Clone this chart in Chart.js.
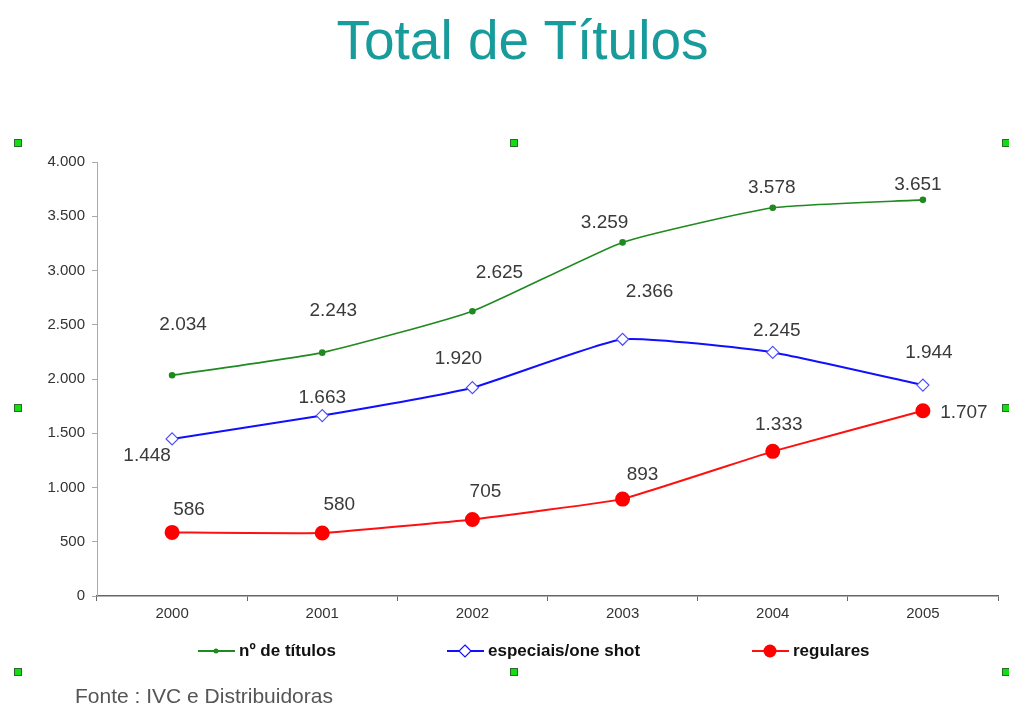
<!DOCTYPE html>
<html>
<head>
<meta charset="utf-8">
<script src="https://cdn.jsdelivr.net/npm/chart.js@4"></script>
<style>
  html, body { margin: 0; padding: 0; background: #fff; }
  #wrap { position: relative; width: 1009px; height: 709px; overflow: hidden; }
  #cvs { position: absolute; left: 0; top: 0; }
  #title { position: absolute; left: 0; width: 1045px; top: 8px; text-align: center;
           font: 55px "Liberation Sans", Arial, sans-serif; color: #179b9b; }
  #fonte { position: absolute; left: 75px; top: 684px; font: 21px "Liberation Sans", Arial, sans-serif; color: #555; }
  .handle { position: absolute; width: 6px; height: 6px; background: #11dd11; border: 1px solid #2a6a2a; }
</style>
</head>
<body>
<div id="wrap">
  <canvas id="cvs" width="1009" height="709"></canvas>
  <div id="title">Total de Títulos</div>
  <div id="fonte">Fonte : IVC e Distribuidoras</div>
</div>
<script>
// dados
const anos = ['2000', '2001', '2002', '2003', '2004', '2005'];
const nTitulos = [2034, 2243, 2625, 3259, 3578, 3651];
const especiais = [1448, 1663, 1920, 2366, 2245, 1944];
const regulares = [586, 580, 705, 893, 1333, 1707];
const yTicks = [0, 500, 1000, 1500, 2000, 2500, 3000, 3500, 4000];

// deslocamento dos rótulos em relação ao ponto (dx, dy)
const offTitulos = [[11, -51], [11, -42], [27, -38], [-18, -20], [-1, -20], [-5, -15]];
const offEspeciais = [[-25, 17], [0, -18], [-14, -29], [27, -48], [4, -22], [6, -32]];
const offRegulares = [[17, -23], [17, -28], [13, -28], [20, -24], [6, -27], [41, 2]];

// alças verdes de seleção (enfeite do slide)
[[18,143],[514,143],[1006,143],[18,408],[1006,408],[18,672],[514,672],[1006,672]].forEach(([x, y]) => {
    const d = document.createElement('div'); d.className = 'handle';
    d.style.left = (x - 4) + 'px'; d.style.top = (y - 4) + 'px';
    document.getElementById('wrap').appendChild(d);
});

const fmt = v => v.toString().replace(/\B(?=(\d{3})+(?!\d))/g, '.');

const labelsPlugin = {
    id: 'rotulos',
    afterDatasetsDraw(chart) {
        const ctx = chart.ctx;
        ctx.save();
        ctx.font = '19px "Liberation Sans", Arial, sans-serif';
        ctx.fillStyle = '#3a3a3a'; ctx.textAlign = 'center'; ctx.textBaseline = 'middle';
        chart.data.datasets.forEach((ds, i) => {
            chart.getDatasetMeta(i).data.forEach((pt, j) => {
                const o = ds.offsets[j];
                ctx.fillText(fmt(ds.data[j]), pt.x + o[0], pt.y + o[1]);
            });
        });
        ctx.restore();
    }
};

const legendPlugin = {
    id: 'legenda',
    afterDraw(chart) {
        const ctx = chart.ctx; const y = 651; const xs = [198, 447, 752];
        ctx.save();
        ctx.font = 'bold 17px "Liberation Sans", Arial, sans-serif';
        ctx.textBaseline = 'middle'; ctx.textAlign = 'left';
        chart.data.datasets.forEach((ds, i) => {
            const x = xs[i];
            ctx.strokeStyle = ds.borderColor; ctx.lineWidth = 2;
            ctx.beginPath(); ctx.moveTo(x, y); ctx.lineTo(x + 37, y); ctx.stroke();
            ctx.beginPath();
            if (ds.pointStyle === 'rectRot') {
                const r = 6; ctx.fillStyle = '#fff'; ctx.lineWidth = 1.2;
                ctx.moveTo(x + 18, y - r); ctx.lineTo(x + 18 + r, y); ctx.lineTo(x + 18, y + r); ctx.lineTo(x + 18 - r, y); ctx.closePath();
                ctx.fill(); ctx.stroke();
            } else {
                ctx.fillStyle = ds.pointBackgroundColor;
                ctx.arc(x + 18, y, ds.pointRadius, 0, Math.PI * 2); ctx.fill();
            }
            ctx.fillStyle = '#111';
            ctx.fillText(ds.label, x + 41, y);
        });
        ctx.restore();
    }
};

new Chart(document.getElementById('cvs').getContext('2d'), {
    type: 'line',
    data: {
        labels: anos,
        datasets: [
            { label: 'nº de títulos', data: nTitulos, offsets: offTitulos, borderColor: '#1f8a1f', borderWidth: 1.6,
              pointStyle: 'circle', pointRadius: 2.5, pointBackgroundColor: '#1f8a1f', pointBorderColor: '#1f8a1f', tension: 0.15 },
            { label: 'especiais/one shot', data: especiais, offsets: offEspeciais, borderColor: '#1010ff', borderWidth: 2,
              pointStyle: 'rectRot', pointRadius: 6, pointBackgroundColor: '#fff', pointBorderColor: '#5050ff', pointBorderWidth: 1.2, tension: 0.15 },
            { label: 'regulares', data: regulares, offsets: offRegulares, borderColor: '#ff1010', borderWidth: 2,
              pointStyle: 'circle', pointRadius: 6.5, pointBackgroundColor: '#ff0000', pointBorderColor: '#ff0000', tension: 0.08 }
        ]
    },
    options: {
        responsive: false, animation: false,
        layout: { padding: { left: 0, right: 11, top: 162, bottom: 83 } },
        plugins: { legend: { display: false }, tooltip: { enabled: false } },
        scales: {
            x: {
                offset: true,
                grid: { offset: true, drawOnChartArea: false, drawTicks: true, tickLength: 5, color: '#666' },
                border: { color: '#666', width: 1.5 },
                ticks: { color: '#333', padding: 4, font: { size: 15, family: '"Liberation Sans", Arial' } },
                afterFit: s => { s.height = 30; }
            },
            y: {
                min: 0, max: 4000,
                afterBuildTicks: s => { s.ticks = yTicks.map(v => ({ value: v })); },
                grid: { drawOnChartArea: false, drawTicks: true, tickLength: 5, color: '#aaa' },
                border: { color: '#aaa' },
                ticks: { color: '#333', padding: 7, callback: v => fmt(v), font: { size: 15, family: '"Liberation Sans", Arial' } },
                afterFit: s => { s.width = 97; }
            }
        }
    },
    plugins: [labelsPlugin, legendPlugin]
});
</script>
</body>
</html>
